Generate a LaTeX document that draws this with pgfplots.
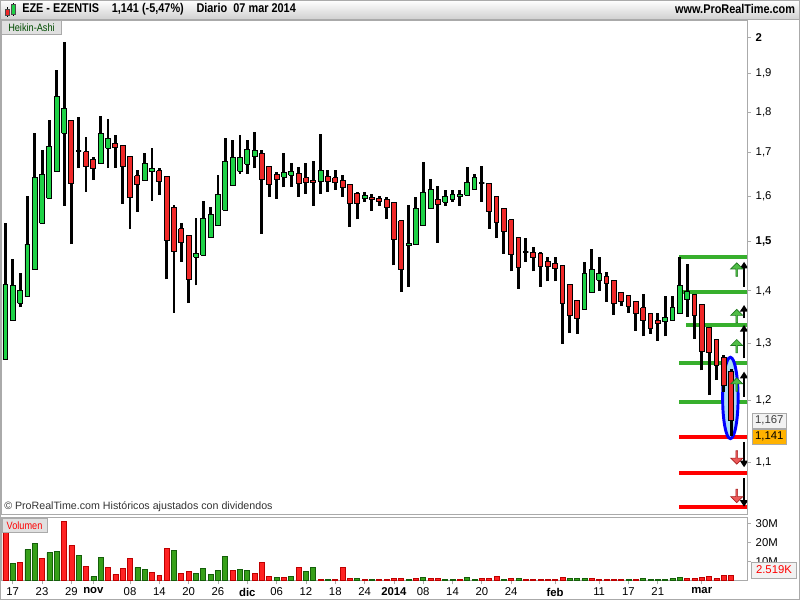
\documentclass[border=0pt]{standalone}
\usepackage{pgfplots}
\pgfplotsset{compat=1.18}
\usepackage{pgfplotstable}
\usepackage{fontspec}
\setmainfont{Liberation Sans}
\newfontfamily\narrowfont{Liberation Sans}[FakeStretch=0.86]
\usetikzlibrary{arrows.meta,shapes.arrows}

\definecolor{cgreen}{RGB}{30,210,70}
\definecolor{cred}{RGB}{240,40,40}
\definecolor{vgreen}{RGB}{55,160,25}
\definecolor{vgreend}{RGB}{20,95,10}
\definecolor{vred}{RGB}{255,35,35}
\definecolor{vredd}{RGB}{190,0,0}
\definecolor{lvgreen}{RGB}{55,175,45}
\definecolor{lvred}{RGB}{255,0,0}
\definecolor{ellfill}{RGB}{170,220,245}
\definecolor{agreen}{RGB}{80,190,70}
\definecolor{agreend}{RGB}{30,120,30}
\definecolor{ared}{RGB}{235,90,90}
\definecolor{aredd}{RGB}{170,30,30}
\definecolor{frame}{RGB}{170,170,170}

% Heikin-Ashi candles: index, open, high, low, close
\pgfplotstableread{
i o h l c
0 1.271 1.540 1.271 1.413
1 1.343 1.465 1.343 1.410
2 1.376 1.436 1.368 1.400
3 1.388 1.599 1.388 1.495
4 1.442 1.748 1.442 1.641
5 1.540 1.707 1.540 1.648
6 1.595 1.780 1.595 1.716
7 1.655 1.910 1.655 1.839
8 1.748 1.987 1.578 1.810
9 1.780 1.780 1.495 1.629
10 1.704 1.788 1.663 1.704
11 1.703 1.738 1.610 1.667
12 1.685 1.691 1.637 1.664
13 1.675 1.790 1.675 1.748
14 1.711 1.782 1.665 1.735
15 1.723 1.743 1.665 1.713
16 1.718 1.718 1.583 1.667
17 1.692 1.692 1.527 1.597
18 1.646 1.660 1.565 1.627
19 1.636 1.700 1.636 1.674
20 1.655 1.712 1.589 1.664
21 1.658 1.664 1.602 1.632
22 1.645 1.645 1.423 1.503
23 1.575 1.580 1.358 1.480
24 1.528 1.541 1.459 1.498
25 1.514 1.514 1.376 1.423
26 1.468 1.552 1.411 1.476
27 1.472 1.589 1.472 1.549
28 1.510 1.575 1.510 1.558
29 1.534 1.648 1.534 1.603
30 1.568 1.735 1.568 1.680
31 1.624 1.731 1.624 1.689
32 1.656 1.743 1.651 1.689
33 1.673 1.731 1.651 1.708
34 1.692 1.751 1.663 1.706
35 1.699 1.707 1.517 1.638
36 1.668 1.668 1.598 1.627
37 1.648 1.655 1.594 1.637
38 1.643 1.699 1.619 1.654
39 1.647 1.676 1.621 1.655
40 1.651 1.667 1.598 1.629
41 1.641 1.676 1.605 1.630
42 1.636 1.681 1.578 1.631
43 1.634 1.746 1.605 1.659
44 1.645 1.660 1.610 1.632
45 1.641 1.660 1.614 1.630
46 1.636 1.648 1.598 1.619
47 1.627 1.627 1.531 1.583
48 1.606 1.610 1.548 1.583
49 1.595 1.609 1.587 1.600
50 1.597 1.604 1.567 1.592
51 1.595 1.600 1.578 1.588
52 1.592 1.597 1.548 1.575
53 1.585 1.585 1.451 1.504
54 1.545 1.545 1.398 1.442
55 1.492 1.580 1.408 1.497
56 1.495 1.597 1.495 1.571
57 1.534 1.678 1.534 1.608
58 1.571 1.639 1.571 1.615
59 1.592 1.623 1.498 1.580
60 1.586 1.613 1.578 1.599
61 1.592 1.613 1.587 1.604
62 1.599 1.613 1.578 1.604
63 1.601 1.667 1.601 1.630
64 1.615 1.651 1.615 1.641
65 1.629 1.669 1.587 1.629
66 1.629 1.629 1.528 1.566
67 1.598 1.598 1.508 1.542
68 1.571 1.571 1.475 1.523
69 1.547 1.547 1.439 1.473
70 1.510 1.511 1.404 1.446
71 1.478 1.507 1.459 1.478
72 1.478 1.489 1.439 1.468
73 1.475 1.478 1.408 1.448
74 1.460 1.468 1.419 1.448
75 1.455 1.468 1.419 1.444
76 1.451 1.451 1.300 1.375
77 1.412 1.412 1.319 1.352
78 1.382 1.382 1.318 1.346
79 1.364 1.459 1.364 1.434
80 1.397 1.485 1.397 1.442
81 1.421 1.469 1.400 1.434
82 1.428 1.438 1.379 1.414
83 1.420 1.420 1.354 1.376
84 1.397 1.398 1.370 1.379
85 1.390 1.391 1.358 1.369
86 1.379 1.380 1.324 1.356
87 1.367 1.394 1.313 1.343
88 1.356 1.356 1.318 1.327
89 1.342 1.358 1.305 1.338
90 1.340 1.390 1.313 1.348
91 1.343 1.390 1.343 1.367
92 1.356 1.468 1.356 1.411
93 1.383 1.453 1.350 1.398
94 1.393 1.393 1.309 1.353
95 1.373 1.373 1.252 1.286
96 1.330 1.330 1.209 1.284
97 1.307 1.307 1.235 1.260
98 1.275 1.280 1.215 1.225
99 1.250 1.254 1.141 1.167
}\hatable

% volume in millions, s=1 green bar, s=0 red bar
\pgfplotstableread{
i v s
0 26 0
1 8.8 1
2 9.3 0
3 16.3 1
4 19.3 1
5 11.6 0
6 14.7 1
7 15.3 1
8 31 0
9 18.4 0
10 13 1
11 7.4 0
12 2.1 1
13 12.1 1
14 6.8 0
15 3.2 0
16 6.3 0
17 11.6 0
18 6.8 1
19 5.8 1
20 4.2 0
21 2.6 0
22 16.8 0
23 15.8 1
24 3.7 0
25 4.7 0
26 3.7 1
27 6.3 1
28 3.2 1
29 5.3 1
30 12.6 1
31 5.3 0
32 5.8 1
33 5.3 1
34 3.7 0
35 9.5 0
36 2.1 0
37 1.6 1
38 1.6 0
39 2.1 1
40 6.8 0
41 4.7 1
42 6.8 1
43 0.5 0
44 0.5 1
45 0.5 0
46 6.8 0
47 1.1 0
48 1.1 1
49 0.5 0
50 0.5 1
51 0.5 0
52 0.5 0
53 1.1 0
54 1.0 0
55 0.5 1
56 1.0 0
57 1.6 1
58 1.0 0
59 1.0 0
60 0.5 1
61 0.5 1
62 0.5 0
63 1.6 1
64 0.5 1
65 1.0 0
66 1.0 0
67 2.1 0
68 0.5 1
69 1.0 0
70 1.0 1
71 0.5 0
72 0.5 0
73 0.5 0
74 0.5 0
75 0.5 0
76 1.6 0
77 1.0 1
78 1.0 1
79 1.0 1
80 1.0 0
81 0.5 0
82 0.5 0
83 0.5 0
84 0.5 0
85 0.5 1
86 0.5 0
87 1.0 1
88 0.5 1
89 0.5 1
90 0.5 1
91 1.0 1
92 1.6 1
93 1.0 0
94 1.0 0
95 1.6 0
96 2.1 0
97 1.0 0
98 2.6 0
99 2.6 0
}\voltable

\begin{document}
\begin{tikzpicture}
\path[use as bounding box] (0,0) rectangle (600pt,450pt);
\fill[white] (0,0) rectangle (600pt,450pt);

% header bar
\shade[top color=white, bottom color=black!18] (0,435.75pt) rectangle (600pt,450pt);
\draw[frame] (0,435.75pt) -- (600pt,435.75pt);
\draw[black, line width=0.6pt] (5.8pt,437.5pt) -- (5.8pt,445pt);
\filldraw[fill=cred, draw=black!70, line width=0.4pt] (4.3pt,438.5pt) rectangle (7.3pt,443pt);
\draw[black, line width=0.6pt] (10.1pt,438pt) -- (10.1pt,448pt);
\filldraw[fill=cgreen, draw=black!70, line width=0.4pt] (8.6pt,439pt) rectangle (11.6pt,446.5pt);
\node[anchor=west, inner sep=0pt, font=\narrowfont\bfseries\fontsize{9.5}{11}\selectfont]
  at (16.5pt,443pt) {EZE - EZENTIS\quad 1,141 (-5,47\%)\quad Diario\ \ 07 mar 2014};
\node[anchor=east, inner sep=0pt, font=\narrowfont\bfseries\fontsize{9.5}{11}\selectfont]
  at (596.5pt,443pt) {www.ProRealTime.com};

% price panel
\begin{axis}[
  at={(0.75pt,64.5pt)}, anchor=south west, scale only axis,
  width=559.5pt, height=370.5pt,
  xmin=-0.6, xmax=101.17,
  ymode=log, ymin=1.0229, ymax=2.049,
  xtick=\empty,
  ytick={1.1,1.2,1.3,1.4,1.5,1.6,1.7,1.8,1.9,2},
  yticklabels={{1,1},{1,2},{1,3},{1,4},{\textbf{1,5}},{1,6},{1,7},{1,8},{1,9},{\textbf{2}}},
  ytick pos=right, yticklabel pos=right, tick align=outside,
  major tick length=3pt, minor tick length=0pt,
  tick style={frame, line width=0.6pt},
  axis line style={frame},
  yticklabel style={font=\fontsize{8.5}{10}\selectfont},
  wick/.style={black, line width=2.2pt, no markers},
  body/.style={draw=black, line width=0.7pt, no markers},
]
% support / resistance levels
\addplot[lvgreen, line width=3pt, no markers] coordinates {(91.9,1.469) (101.2,1.469)};
\addplot[lvgreen, line width=3pt, no markers] coordinates {(91.9,1.398) (101.2,1.398)};
\addplot[lvgreen, line width=3pt, no markers] coordinates {(92.85,1.334) (101.2,1.334)};
\addplot[lvgreen, line width=3pt, no markers] coordinates {(91.9,1.265) (101.2,1.265)};
\addplot[lvgreen, line width=3pt, no markers] coordinates {(91.9,1.198) (101.2,1.198)};
\addplot[lvred, line width=3pt, no markers] coordinates {(91.9,1.140) (101.2,1.140)};
\addplot[lvred, line width=3pt, no markers] coordinates {(91.9,1.084) (101.2,1.084)};
\addplot[lvred, line width=3pt, no markers] coordinates {(91.9,1.0334) (101.2,1.0334)};

\draw[blue, line width=2.2pt, fill=ellfill] (axis cs:98.9,1.2042) ellipse [x radius=5.8pt, y radius=30.5pt];

\pgfplotsinvokeforeach{0,...,99}{%
  \pgfplotstablegetelem{#1}{o}\of\hatable \let\vo\pgfplotsretval
  \pgfplotstablegetelem{#1}{h}\of\hatable \let\vh\pgfplotsretval
  \pgfplotstablegetelem{#1}{l}\of\hatable \let\vl\pgfplotsretval
  \pgfplotstablegetelem{#1}{c}\of\hatable \let\vc\pgfplotsretval
  \pgfmathsetmacro\xa{#1-0.33}%
  \pgfmathsetmacro\xb{#1+0.33}%
  \pgfmathtruncatemacro\dir{\vc>\vo ? 1 : (\vc<\vo ? 2 : 0)}%
  \ifcase\dir \def\bcol{black}\def\blw{1.6pt}\or \def\bcol{cgreen}\def\blw{0.7pt}\or \def\bcol{cred}\def\blw{0.7pt}\fi
  \edef\next{%
    \noexpand\addplot[wick] coordinates {(#1,\vl) (#1,\vh)};
    \noexpand\addplot[body, fill=\bcol, line width=\blw] coordinates
      {(\xa,\vo) (\xb,\vo) (\xb,\vc) (\xa,\vc) (\xa,\vo)};
  }\next
}

% signal arrows
\foreach \ya/\yb in {1.4081/1.4584, 1.3470/1.3724, 1.2732/1.3344, 1.2064/1.2496,
                     1.1322/1.0923, 1.0755/1.0334}{
  \edef\next{\noexpand\draw[black, line width=1.4pt, -{Triangle[length=5pt,width=6pt]}]
    (axis cs:100.77,\ya) -- (axis cs:100.77,\yb);}\next
}
\foreach \yc in {1.4416, 1.3504, 1.2944, 1.2264}{
  \edef\next{\noexpand\node[single arrow, rotate=90, fill=agreen, draw=agreend, line width=0.5pt,
    minimum height=10pt, minimum width=9pt, single arrow head extend=1.5pt, inner sep=0pt]
    at (axis cs:99.77,\yc) {};}\next
}
\foreach \yc in {1.1082, 1.0498}{
  \edef\next{\noexpand\node[single arrow, rotate=-90, fill=ared, draw=aredd, line width=0.5pt,
    minimum height=10pt, minimum width=9pt, single arrow head extend=1.5pt, inner sep=0pt]
    at (axis cs:99.77,\yc) {};}\next
}
\end{axis}

% volume panel
\begin{axis}[
  at={(0.75pt,14.625pt)}, anchor=south west, scale only axis,
  width=559.5pt, height=47.25pt,
  xmin=-0.6, xmax=101.17, ymin=0, ymax=33.16,
  xtick={1,5,9,12,17,21,25,29,33,37,41,45,49,53,57,61,65,69,75,81,85,89,95},
  xticklabels={17,23,29,\textbf{nov},08,14,20,26,\textbf{dic},06,12,18,24,\textbf{2014},08,14,20,24,\textbf{feb},11,17,21,\textbf{mar}},
  xtick pos=left, ytick pos=right, yticklabel pos=right,
  ytick={10,20,30}, yticklabels={10M,20M,30M},
  tick align=outside, major tick length=3pt,
  tick style={frame, line width=0.6pt},
  axis line style={frame},
  ticklabel style={font=\fontsize{8.5}{10}\selectfont},
  xticklabel style={yshift=1pt},
]
\addplot[ybar, bar width=0.68, fill=vgreen, draw=vgreend, line width=0.5pt,
  restrict expr to domain={\thisrow{s}}{1:1}] table[x=i, y=v] {\voltable};
\addplot[ybar, bar width=0.68, fill=vred, draw=vredd, line width=0.5pt,
  restrict expr to domain={\thisrow{s}}{0:0}] table[x=i, y=v] {\voltable};
\end{axis}

% labels and value boxes
\node[fill=black!12, draw=frame, line width=0.5pt, inner sep=1pt, minimum width=45pt, minimum height=10pt,
  text=green!30!black, font=\narrowfont\fontsize{8}{9}\selectfont] at (23.6pt,429.5pt) {Heikin-Ashi};
\node[fill=black!12, draw=frame, line width=0.5pt, inner sep=1pt, minimum width=34pt, minimum height=10pt,
  text=red, font=\narrowfont\fontsize{8}{9}\selectfont] at (18.4pt,56pt) {Volumen};
\node[anchor=west, inner sep=0pt, text=black!80, font=\fontsize{8}{9}\selectfont]
  at (3pt,69.75pt) {© ProRealTime.com Históricos ajustados con dividendos};
\node[fill=black!5, draw=frame, line width=0.5pt, inner sep=1pt, minimum width=26pt, minimum height=11pt,
  text=black!75, font=\fontsize{8.5}{10}\selectfont] at (577pt,134.6pt) {1,167};
\node[fill=orange!60!yellow, draw=frame, line width=0.5pt, inner sep=1pt, minimum width=26pt, minimum height=11pt,
  font=\fontsize{8.5}{10}\selectfont] at (577pt,122.6pt) {1,141};
\node[fill=black!5, draw=frame, line width=0.5pt, inner sep=1pt, minimum width=34pt, minimum height=12pt,
  text=red, font=\fontsize{8.5}{10}\selectfont] at (580.5pt,22.5pt) {2.519K};

\draw[frame] (0.4pt,0.4pt) rectangle (599.6pt,449.6pt);
\end{tikzpicture}
\end{document}
